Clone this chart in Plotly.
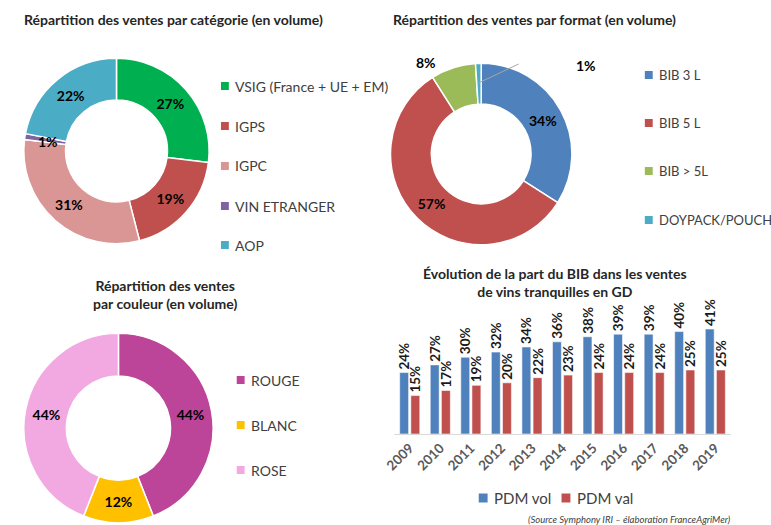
import math
import plotly.graph_objects as go

W, H = 771, 525
FONT = "Lato"


def px(x):
    return x / W


def py(y):
    return 1 - y / H


# --- data -------------------------------------------------------------
cat_labels = ["VSIG (France + UE + EM)", "IGPS", "IGPC", "VIN ETRANGER", "AOP"]
cat_values = [27, 19, 31, 1, 22]
cat_colors = ["#00B050", "#C0504D", "#D99694", "#8064A2", "#4BACC6"]

fmt_labels = ["BIB 3 L", "BIB 5 L", "BIB > 5L", "DOYPACK/POUCH"]
fmt_values = [34, 57, 8, 1]
fmt_colors = ["#4F81BD", "#C0504D", "#9BBB59", "#4BACC6"]

col_labels = ["ROUGE", "BLANC", "ROSE"]
col_values = [44, 12, 44]
col_colors = ["#BC4499", "#FFC000", "#F2A9E1"]

years = ["2009", "2010", "2011", "2012", "2013", "2014",
         "2015", "2016", "2017", "2018", "2019"]
pdm_vol = [24, 27, 30, 32, 34, 36, 38, 39, 39, 40, 41]
pdm_val = [15, 17, 19, 20, 22, 23, 24, 24, 24, 25, 25]
bar_names = ["PDM vol", "PDM val"]
bar_colors = ["#4F81BD", "#C0504D"]

HOLE = 0.55

fig = go.Figure()
annotations = []
shapes = []


def ring_point(values, idx, cx, cy, r):
    """Pixel position of the middle of slice idx, at radius r (clockwise from 12 o'clock)."""
    frac = (sum(values[:idx]) + values[idx] / 2) / sum(values)
    t = 2 * math.pi * frac
    return cx + r * math.sin(t), cy - r * math.cos(t)


def donut(labels, values, colors, cx, cy, r, textpos):
    return go.Pie(
        labels=labels, values=values, sort=False, direction="clockwise",
        rotation=0, hole=HOLE,
        marker=dict(colors=colors, line=dict(color="white", width=1.5)),
        domain=dict(x=[px(cx - r), px(cx + r)], y=[py(cy + r), py(cy - r)]),
        texttemplate="<b>%{value}%</b>", textposition=textpos,
        insidetextorientation="horizontal",
        textfont=dict(family=FONT, size=14, color="black"),
        showlegend=False, hoverinfo="label+percent",
    )


def pct_label(value, x, y):
    annotations.append(dict(x=px(x), y=py(y), xref="paper", yref="paper",
                            text=f"<b>{value}%</b>", showarrow=False,
                            xanchor="center", yanchor="middle",
                            font=dict(family=FONT, size=14, color="black")))


def legend_block(labels, colors, x, ys, size=14):
    for lab, col, y in zip(labels, colors, ys):
        shapes.append(dict(type="rect", xref="paper", yref="paper",
                           x0=px(x - 4), x1=px(x + 4), y0=py(y + 4), y1=py(y - 4),
                           fillcolor=col, line=dict(width=0)))
        annotations.append(dict(x=px(x + 8), y=py(y), xref="paper", yref="paper",
                                text=lab, showarrow=False, xanchor="left",
                                yanchor="middle",
                                font=dict(family=FONT, size=size, color="#404040")))


def title(text, x, y, anchor="center", size=14):
    annotations.append(dict(x=px(x), y=py(y), xref="paper", yref="paper",
                            text=f"<b>{text}</b>", showarrow=False,
                            xanchor=anchor, yanchor="middle", align="center",
                            font=dict(family=FONT, size=size, color="#262626")))


# --- donut 1 : catégorie ---------------------------------------------
ccx, ccy, cr = 107, 151, 94
fig.add_trace(donut(cat_labels, cat_values, cat_colors, ccx, ccy, cr,
                    ["inside", "inside", "inside", "none", "inside"]))
# the thin "VIN ETRANGER" slice gets its label at mid-ring
vx, vy = ring_point(cat_values, 3, ccx, ccy, cr * (1 + HOLE) / 2)
pct_label(cat_values[3], vx + 2, vy + 2)
title("Répartition des ventes par catégorie (en volume)", 11, 19, "left")
legend_block(cat_labels, cat_colors, 217, [86, 126, 166, 206, 245])

# --- donut 2 : format ------------------------------------------------
fcx, fcy, fr = 477, 154, 92
fig.add_trace(donut(fmt_labels, fmt_values, fmt_colors, fcx, fcy, fr,
                    ["inside", "inside", "none", "none"]))
title("Répartition des ventes par format (en volume)", 386, 20, "left")
legend_block(fmt_labels, fmt_colors, 647, [75, 123, 171, 220], size=13)

# outside labels for the two small slices
pct_label(fmt_values[2], 421, 62)
pct_label(fmt_values[3], 583, 66)
# leader line from the middle of the DOYPACK slice
lx0, ly0 = ring_point(fmt_values, 3, fcx, fcy, fr * (1 + HOLE) / 2)
shapes.append(dict(type="line", xref="paper", yref="paper",
                   x0=px(lx0), y0=py(ly0), x1=px(515), y1=py(64),
                   line=dict(color="#A6A6A6", width=1)))

# --- donut 3 : couleur -----------------------------------------------
fig.add_trace(donut(col_labels, col_values, col_colors, 109, 428, 96, "inside"))
title("Répartition des ventes<br>par couleur (en volume)", 156, 294)
legend_block(col_labels, col_colors, 233, [380, 425, 470])

# --- bars : évolution part du BIB ------------------------------------
for name, vals, col in zip(bar_names, [pdm_vol, pdm_val], bar_colors):
    fig.add_trace(go.Bar(
        x=years, y=vals, name=name,
        marker=dict(color=col, line=dict(color="rgba(255,255,255,0.55)", width=1)),
        texttemplate="<b>%{y}%</b>", textposition="outside", textangle=-90,
        constraintext="none", cliponaxis=False,
        textfont=dict(family=FONT, size=13.5, color="#1a1a1a"),
        showlegend=False, xaxis="x", yaxis="y",
    ))

title("Évolution de la part du BIB dans les ventes<br>de vins tranquilles en GD", 552, 282)

# bar legend
for lab, col, x in zip(bar_names, bar_colors, [479, 563]):
    shapes.append(dict(type="rect", xref="paper", yref="paper",
                       x0=px(x - 4.5), x1=px(x + 4.5), y0=py(498 + 4.5), y1=py(498 - 4.5),
                       fillcolor=col, line=dict(width=0)))
    annotations.append(dict(x=px(x + 9), y=py(498), xref="paper", yref="paper",
                            text=lab, showarrow=False, xanchor="left", yanchor="middle",
                            font=dict(family=FONT, size=15, color="#404040")))

annotations.append(dict(x=px(627), y=py(519), xref="paper", yref="paper",
                        text="<i>(Source Symphony IRI – élaboration FranceAgriMer)</i>",
                        showarrow=False, xanchor="center", yanchor="middle",
                        font=dict(family=FONT, size=9.5, color="#404040")))

fig.update_layout(
    width=W, height=H,
    margin=dict(l=0, r=0, t=0, b=0),
    paper_bgcolor="white", plot_bgcolor="white",
    barmode="group", bargap=0.27, bargroupgap=0.2,
    xaxis=dict(domain=[px(389), px(730)], anchor="y", tickangle=-45,
               tickfont=dict(family=FONT, size=13.5, color="#595959", weight="bold"),
               showline=True, linecolor="#D9D9D9", linewidth=1,
               showgrid=False, ticks="", fixedrange=True),
    yaxis=dict(domain=[py(434), py(306)], anchor="x", range=[0, 50],
               visible=False, showgrid=False, fixedrange=True),
    annotations=annotations,
    shapes=shapes,
    showlegend=False,
)

fig.write_html("out.html")
